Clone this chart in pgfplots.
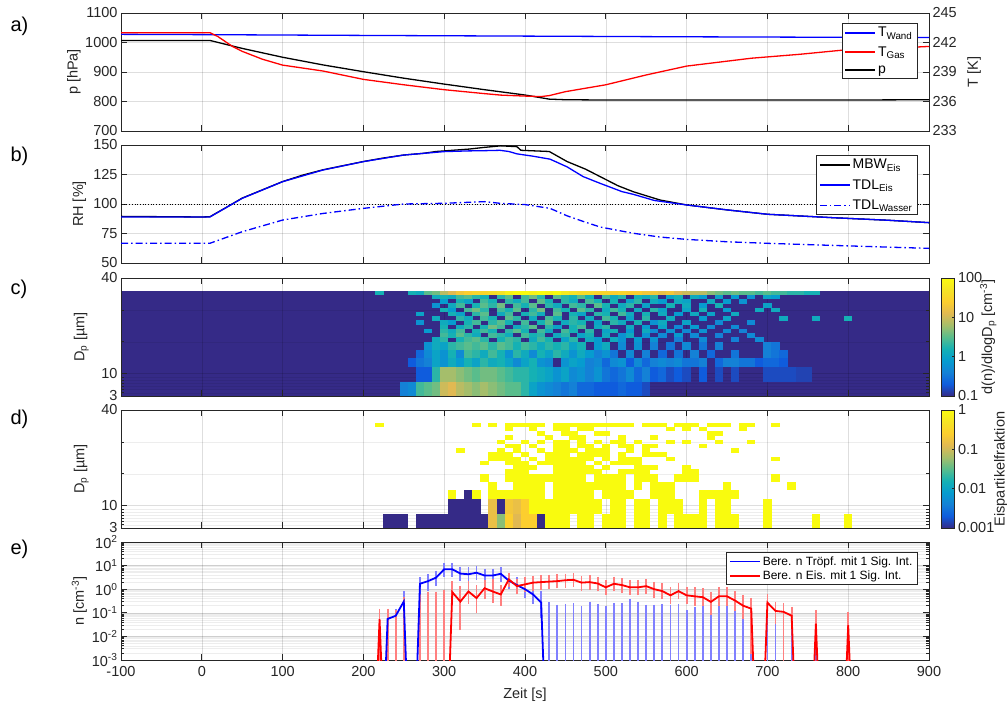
\documentclass[border=0pt]{standalone}
\usepackage{fontspec}
\setmainfont{Liberation Sans}
\usepackage{pgfplots}
\usepackage{pgfplotstable}
\pgfplotsset{compat=1.18}

\definecolor{axgray}{RGB}{38,38,38}
\definecolor{pbase}{RGB}{53,42,135}
\definecolor{lblue}{RGB}{128,128,255}
\definecolor{lred}{RGB}{255,128,128}

% calculated droplet number: time, value, lower and upper 1-sigma bound (zero -> 1e-10)
\pgfplotstableread{
t n lo hi
220 1e-10 1e-10 1e-10
230 0.055 0.035 0.1
240 0.075 0.05 0.1
250 0.3 0.021 0.55
260 1e-10 1e-10 1e-10
270 1.7 0.85 2.2
280 2.2 1.3 2.9
290 3.1 2.0 4.1
300 7.0 5.0 8.8
310 7.0 5.0 8.8
320 4.6 3.3 6.1
330 4.3 3.0 5.8
340 5.0 3.6 6.6
350 3.8 2.6 5.1
360 3.8 2.6 5.1
370 4.5 3.1 5.8
380 2.3 1.5 3.2
390 1.5 0.95 2.2
400 1.0 0.62 1.5
410 0.6 0.35 0.95
420 0.27 0.09 0.55
430 1e-10 1e-10 0.19
440 1e-10 1e-10 0.15
450 1e-10 1e-10 0.16
460 1e-10 1e-10 0.17
470 1e-10 1e-10 0.13
480 1e-10 1e-10 0.2
490 1e-10 1e-10 0.16
500 1e-10 1e-10 0.13
510 1e-10 1e-10 0.18
520 1e-10 1e-10 0.17
530 1e-10 1e-10 0.26
540 1e-10 1e-10 0.2
550 1e-10 1e-10 0.15
560 1e-10 1e-10 0.15
570 1e-10 1e-10 0.16
580 1e-10 1e-10 0.15
590 1e-10 1e-10 0.16
600 1e-10 1e-10 0.09
610 1e-10 1e-10 0.12
620 1e-10 1e-10 0.13
630 1e-10 1e-10 0.14
640 1e-10 1e-10 0.14
650 1e-10 1e-10 0.14
660 1e-10 1e-10 0.15
670 1e-10 1e-10 0.066
680 1e-10 1e-10 0.12
690 1e-10 1e-10 1e-10
700 1e-10 1e-10 0.13
710 1e-10 1e-10 0.05
720 1e-10 1e-10 0.09
730 1e-10 1e-10 0.066
760 1e-10 1e-10 0.033
800 1e-10 1e-10 0.033
}\dropN

% calculated ice number
\pgfplotstableread{
t n lo hi
210 1e-10 1e-10 1e-10
220 0.054 1e-6 0.1
230 1e-10 1e-10 0.1
240 1e-10 1e-10 0.09
250 1e-10 1e-10 0.33
260 1e-10 1e-10 1e-10
270 1e-10 1e-10 0.43
280 1e-10 1e-10 0.54
290 1e-10 1e-10 0.54
300 1e-10 1e-10 0.6
310 0.75 0.3 1.5
320 0.3 0.027 0.9
330 0.8 0.35 1.5
340 0.42 0.14 1.0
350 1.1 0.55 1.7
360 0.8 0.4 1.8
370 0.6 0.3 1.0
380 2.6 1.8 3.3
390 1.35 0.9 1.9
400 1.6 1.1 2.2
410 1.9 1.3 2.5
420 2.0 1.4 2.6
430 2.1 1.5 2.8
440 2.2 1.6 2.9
450 2.4 1.7 3.1
460 2.5 1.8 3.2
470 1.9 1.3 2.5
480 2.0 1.4 2.6
490 1.75 1.2 2.3
500 1.2 0.8 1.7
510 1.7 1.2 2.3
520 1.5 1.0 2.0
530 1.2 0.8 1.7
540 1.2 0.8 1.7
550 1.35 0.9 1.8
560 1.0 0.65 1.4
570 0.83 0.55 1.2
580 0.55 0.34 0.85
590 0.83 0.55 1.2
600 0.55 0.35 0.85
610 0.5 0.3 0.8
620 0.46 0.28 0.75
630 0.29 0.12 0.5
640 0.5 0.3 0.8
650 0.5 0.3 0.8
660 0.33 0.17 0.55
670 0.2 0.08 0.38
680 0.15 0.0027 0.3
690 1e-10 1e-10 1e-10
700 0.27 0.13 0.42
710 0.12 0.05 0.2
720 0.11 1e-6 0.18
730 0.075 0.04 0.12
740 1e-10 1e-10 1e-10
750 1e-10 1e-10 1e-10
760 0.035 0.005 0.09
770 1e-10 1e-10 1e-10
790 1e-10 1e-10 1e-10
800 0.03 1e-6 0.07
810 1e-10 1e-10 1e-10
}\iceN

% one heatmap cell: 10 s wide, half height = mark size
\pgfdeclareplotmark{hcell}{%
  \pgfpathrectangle{\pgfqpoint{-4.2pt}{-\pgfplotmarksize}}%
                   {\pgfqpoint{8.4pt}{2\pgfplotmarksize}}%
  \pgfusepathqfill}

\newcommand\fs{\fontsize{14.5}{17}\selectfont}

\pgfplotsset{
  parula/.style={colormap={parula}{rgb255=(53,42,135) rgb255=(15,92,221)
     rgb255=(20,129,214) rgb255=(6,156,207) rgb255=(21,177,180) rgb255=(89,189,140)
     rgb255=(165,190,107) rgb255=(225,185,82) rgb255=(252,206,46) rgb255=(245,227,37)
     rgb255=(249,251,14)}},
  panel/.style={
    scale only axis, width=808pt, height=118pt, anchor=south west,
    xmin=-100, xmax=900, xtick={-100,0,...,900},
    tick align=inside, xtick pos=both, xticklabel pos=left,
    major tick length=6pt, minor tick length=3pt,
    axis line style={axgray, line width=0.7pt},
    every tick/.style={axgray, line width=0.7pt},
    tick label style={font=\fs, text=axgray},
    label style={font=\fs, text=axgray},
    xmajorgrids, ymajorgrids,
    grid style={black, opacity=0.13, line width=0.6pt},
    minor grid style={black, opacity=0.07, line width=0.5pt},
    /pgf/number format/1000 sep={},
    /pgf/number format/assume math mode=true,
    legend cell align=left,
    legend image code/.code={\draw[##1] (0pt,0pt) -- (30pt,0pt);},
    legend style={draw=axgray, line width=0.6pt, fill=white,
      at={(0.986,0.915)}, anchor=north east, inner xsep=3pt, inner ysep=2pt,
      font=\fontsize{14}{16}\selectfont},
  },
  ylab/.style={ylabel style={at={(axis description cs:#1,0.5)}, anchor=base}},
  hc/.style={scatter, only marks, mark=hcell, point meta=explicit,
    scatter/use mapped color={draw=none, fill=mapped color}},
  cbar/.style n args={4}{colorbar, colorbar style={
    scale only axis, width=13pt, height=118pt,
    at={(parent axis.north east)}, anchor=north west, xshift=4pt,
    ytick={#1}, yticklabels={#2}, ytick pos=right, yticklabel pos=right,
    major tick length=3pt, tick align=inside,
    axis line style={axgray, line width=0.6pt},
    every tick/.style={axgray, line width=0.6pt},
    tick label style={font=\fs, text=axgray},
    ylabel={#3},
    ylabel style={at={(axis description cs:#4,0.5)}, anchor=base, font=\fs, text=axgray}}},
  % 1-sigma intervals only: the connecting line is invisible
  sigbars/.style={forget plot, color=#1, draw opacity=0, line width=1.8pt,
    error bars/.cd, y dir=both, y explicit,
    error bar style={draw=#1, draw opacity=1, line width=1.8pt},
    error mark options={mark size=4pt, draw=#1, draw opacity=1, line width=1.8pt}},
}

\begin{document}
\begin{tikzpicture}
\useasboundingbox (0pt,0pt) rectangle (1007pt,-706pt);

% ---------------- a) pressure and temperatures
\begin{axis}[panel, at={(121pt,-131pt)}, ymin=700, ymax=1100, ytick={700,800,...,1100},
  ytick pos=left, xticklabels={}, ylabel={p [hPa]}, ylab=-0.0538]
\addplot[black, line width=1.3pt] coordinates {
(-100,1007) (10,1007) (50,980) (100,950) (150,924) (200,901) (250,879) (300,859)
(350,840) (400,822) (430,808) (450,806) (500,805) (600,805) (700,805) (800,805) (900,806)};
\end{axis}
\begin{axis}[panel, at={(121pt,-131pt)}, ymin=233, ymax=245, ytick={233,236,...,245},
  axis y line*=right, axis x line=none, xmajorgrids=false, ymajorgrids=false,
  ytick pos=right, ylabel={T [K]}, ylab=1.0606,
  legend style={row sep=4pt}]
\addplot[blue, line width=1.3pt] coordinates {
(-100,242.83) (0,242.8) (200,242.72) (400,242.65) (600,242.58) (900,242.5)};
\addlegendentry{T\textsubscript{Wand}}
\addplot[red, line width=1.3pt] coordinates {
(-100,243.0) (10,243.0) (20,242.6) (38,241.6) (50,241.1) (75,240.3) (100,239.7)
(150,239.1) (200,238.25) (250,237.7) (300,237.2) (350,236.8) (370,236.65) (400,236.55)
(420,236.5) (430,236.6) (450,237.0) (500,237.7) (550,238.7) (600,239.6) (650,240.1)
(680,240.4) (740,240.8) (790,241.2) (850,241.4) (900,241.6)};
\addlegendentry{T\textsubscript{Gas}}
\addlegendimage{black, line width=1.3pt}
\addlegendentry{p}
\end{axis}

% ---------------- b) relative humidity
\begin{axis}[panel, at={(121pt,-263pt)}, ymin=50, ymax=150, ytick={50,75,...,150},
  ytick pos=both, yticklabel pos=left, xticklabels={}, ylabel={RH [\%]}, ylab=-0.0468,
  legend style={row sep=5pt}]
\addplot[black, dotted, line width=0.7pt, forget plot] coordinates {(-100,100) (900,100)};
\addplot[black, line width=1.3pt] coordinates {
(-100,89.5) (0,89) (10,89.2) (30,97) (50,105) (75,112) (100,119) (125,124.5) (150,129)
(175,132.5) (200,136) (225,139) (250,141.5) (275,143) (290,144.5) (310,145.5) (330,146.5)
(350,148) (370,149.3) (390,148.6) (395,145.5) (430,144.5) (452,136) (475,129.5)
(493,123.2) (515,115.5) (534,110.4) (567,103.4) (600,99.2) (650,95) (700,91.3)
(781,88.4) (850,86.2) (900,84.2)};
\addlegendentry{MBW\textsubscript{Eis}}
\addplot[blue, line width=1.3pt] coordinates {
(-100,89) (10,89) (50,104.8) (100,118.9) (150,128.8) (200,135.9) (250,141.5)
(300,144.4) (330,145) (350,145.2) (369,145.5) (380,144.5) (390,142.5) (410,140.5)
(431,138) (452,131.5) (472,123.2) (493,117.5) (520,110.5) (534,108.2) (560,103)
(600,99.2) (650,95) (700,91.3) (781,88.4) (850,86.2) (900,84.2)};
\addlegendentry{TDL\textsubscript{Eis}}
\addplot[blue, line width=1.3pt, dash pattern=on 7pt off 3pt on 1.5pt off 3pt] coordinates {
(-100,66.7) (10,66.7) (50,76.5) (100,86.4) (150,92) (200,96.3) (250,100) (300,100.6)
(350,102) (369,100.6) (400,99.5) (431,96.3) (452,90) (473,85) (493,80.5) (534,75.2)
(567,72) (600,70) (650,68) (699,66.7) (800,64.5) (900,62.4)};
\addlegendentry{TDL\textsubscript{Wasser}}
\end{axis}

% ---------------- c) size distribution, log10 of d(n)/dlogDp
\begin{axis}[panel, at={(121pt,-396pt)}, ymin=3, ymax=40, ytick={3,10,40},
  minor ytick={4,5,6,7,8,9,20,30}, ytick pos=both, yticklabel pos=left, yminorgrids,
  xticklabels={}, ylabel={D\textsubscript{p} [µm]}, ylab=-0.0452, axis on top,
  parula, point meta min=-1, point meta max=2,
  cbar={-1,0,1,2}{0.1,1,10,100}{d(n)/dlogD\textsubscript{p} [cm\textsuperscript{-3}]}{3.9}]
\addplot[draw=none, fill=pbase] coordinates {(-100,3) (900,3) (900,36) (-100,36)};
\addplot[hc, mark size=2.2pt] table[y expr=35.33, meta index=1, row sep=\\] {
220 0.2\\260 0.2\\270 0.1\\280 0.5\\290 0.6\\300 0.9\\310 1.1\\320 1.3\\330 1.4\\340 1.5\\
350 1.5\\360 1.6\\370 1.7\\380 1.9\\390 2.0\\400 2.0\\410 1.9\\420 2.0\\430 1.9\\440 2.0\\
450 1.8\\460 1.7\\470 1.6\\480 1.6\\490 1.5\\500 1.5\\510 1.4\\520 1.5\\530 1.4\\540 1.4\\
550 1.3\\560 1.3\\570 1.2\\580 1.3\\590 1.1\\600 1.0\\610 0.9\\620 0.9\\630 0.7\\640 0.6\\
650 0.5\\660 0.6\\670 0.5\\680 0.5\\690 0.4\\700 0.5\\710 0.4\\720 0.4\\730 0.3\\740 0.3\\
750 0.2\\760 0.2\\};
\addplot[hc, mark size=2.2pt] table[y expr=34.0, meta index=1, row sep=\\] {
290 0.1\\300 0.2\\310 0.1\\320 0.4\\330 0.5\\340 0.3\\350 0.2\\370 0.3\\380 0.5\\400 0.4\\
410 0.6\\420 0.3\\440 0.5\\450 0.3\\460 0.2\\470 0.5\\480 0.2\\500 0.4\\510 0.1\\520 0.3\\
540 0.2\\550 0.1\\560 0.3\\580 0.0\\590 0.2\\610 0.1\\620 -0.1\\640 0.0\\660 -0.1\\680 -0.2\\
700 0.0\\710 -0.1\\};
\addplot[hc, mark size=2.2pt] table[y expr=32.67, meta index=1, row sep=\\] {
300 -0.1\\320 0.2\\330 0.0\\350 0.4\\360 0.2\\380 0.3\\390 0.1\\400 0.4\\420 0.5\\430 0.2\\
450 0.3\\460 0.1\\480 0.4\\490 0.2\\510 0.2\\530 0.0\\540 0.3\\560 0.1\\570 -0.1\\590 0.1\\
600 0.0\\630 0.1\\650 -0.1\\670 -0.2\\};
\addplot[hc, mark size=2.2pt] table[y expr=31.33, meta index=1, row sep=\\] {
290 -0.2\\310 0.1\\320 0.4\\340 0.2\\350 0.5\\360 0.3\\370 0.6\\390 0.4\\400 0.2\\410 0.5\\
430 0.3\\440 0.1\\460 0.4\\470 0.3\\490 0.5\\500 0.2\\520 0.1\\530 0.3\\550 0.0\\580 0.2\\
600 0.1\\620 -0.1\\640 0.2\\700 0.0\\};
\addplot[hc, mark size=2.2pt] table[y expr=30.0, meta index=1, row sep=\\] {
300 0.2\\310 -0.1\\330 0.4\\340 0.6\\350 0.3\\370 0.4\\380 0.2\\390 0.5\\410 0.3\\420 0.6\\
440 0.4\\450 0.2\\470 0.5\\480 0.3\\500 0.1\\510 0.4\\520 0.2\\540 0.1\\560 0.3\\570 0.0\\
600 0.0\\620 0.2\\650 -0.1\\690 0.1\\710 0.1\\};
\addplot[hc, mark size=2.2pt] table[y expr=28.67, meta index=1, row sep=\\] {
270 0.0\\310 0.2\\320 0.0\\340 0.3\\350 0.5\\370 0.1\\380 0.4\\400 0.2\\410 0.4\\420 0.1\\
440 0.5\\460 0.2\\470 0.0\\490 0.3\\500 0.2\\520 0.4\\530 0.1\\550 0.2\\570 0.1\\590 -0.1\\
610 0.1\\630 0.0\\660 0.1\\};
\addplot[hc, mark size=2.2pt] table[y expr=27.33, meta index=1, row sep=\\] {
290 0.1\\320 0.3\\330 0.1\\350 0.4\\360 0.2\\380 0.5\\390 0.3\\410 0.1\\430 0.4\\440 0.2\\
460 0.3\\480 0.1\\500 0.4\\510 0.2\\530 0.0\\550 0.3\\580 0.1\\620 -0.1\\650 0.0\\720 0.1\\
760 0.1\\800 0.2\\};
\addplot[hc, mark size=2.2pt] table[y expr=26.0, meta index=1, row sep=\\] {
270 -0.2\\300 0.1\\310 -0.1\\330 0.2\\340 0.4\\360 0.3\\370 0.5\\380 0.2\\400 0.4\\420 0.2\\
430 0.5\\450 0.1\\460 0.3\\470 0.2\\490 0.0\\510 0.3\\520 0.1\\540 0.2\\560 -0.2\\570 0.1\\
600 0.0\\640 -0.3\\680 -0.3\\};
\addplot[hc, mark size=2.2pt] table[y expr=24.67, meta index=1, row sep=\\] {
300 0.2\\320 0.1\\330 0.3\\350 0.2\\360 0.6\\370 0.4\\390 0.1\\400 0.3\\410 0.5\\430 0.3\\
440 0.0\\460 0.2\\470 0.4\\490 0.1\\500 0.3\\530 0.1\\550 -0.1\\570 0.0\\590 -0.3\\610 -0.1\\
630 -0.3\\660 -0.3\\};
\addplot[hc, mark size=2.2pt] table[y expr=23.33, meta index=1, row sep=\\] {
280 -0.1\\300 0.3\\310 0.1\\320 0.4\\340 0.2\\350 0.4\\360 0.2\\380 0.3\\390 0.5\\400 0.2\\
420 0.4\\430 0.1\\450 0.4\\460 0.2\\480 0.3\\500 0.0\\510 0.2\\530 -0.1\\550 0.1\\560 -0.3\\
580 -0.2\\600 -0.3\\620 -0.2\\650 -0.3\\670 -0.4\\};
\addplot[hc, mark size=2.2pt] table[y expr=22.0, meta index=1, row sep=\\] {
300 0.4\\310 0.2\\320 0.5\\330 0.3\\340 0.1\\360 0.4\\370 0.3\\380 0.1\\400 0.4\\410 0.2\\
420 0.3\\440 0.1\\450 0.3\\470 0.0\\480 0.2\\500 0.1\\520 -0.2\\530 0.1\\550 -0.2\\570 -0.3\\
590 -0.1\\610 -0.3\\640 -0.4\\680 -0.3\\};
\addplot[hc, mark size=2.2pt] table[y expr=20.67, meta index=1, row sep=\\] {
290 0.1\\300 0.3\\320 0.2\\330 0.4\\340 0.5\\350 0.3\\370 0.2\\380 0.4\\390 0.3\\410 0.1\\
420 0.4\\430 0.2\\450 0.0\\460 0.3\\480 0.1\\490 -0.1\\510 0.1\\520 -0.2\\540 -0.1\\560 -0.2\\
590 -0.4\\620 -0.3\\660 -0.4\\690 -0.3\\};
\addplot[hc, mark size=4.1pt] table[y expr=18.75, meta index=1, row sep=\\] {
280 -0.2\\290 0.1\\300 0.0\\310 0.3\\320 0.4\\330 0.5\\340 0.4\\350 0.5\\360 0.3\\370 0.5\\
380 0.4\\390 0.2\\400 0.4\\410 0.3\\420 0.1\\430 0.3\\440 0.2\\450 0.3\\460 0.0\\470 0.2\\
490 -0.1\\500 0.1\\520 -0.3\\540 -0.2\\560 -0.4\\580 -0.5\\600 -0.3\\620 -0.5\\640 -0.4\\
700 -0.4\\710 -0.5\\};
\addplot[hc, mark size=4.1pt] table[y expr=16.25, meta index=1, row sep=\\] {
270 -0.6\\280 -0.3\\290 0.0\\300 -0.2\\310 0.2\\320 -0.3\\330 0.4\\340 0.3\\350 0.1\\360 0.4\\
370 0.2\\380 -0.2\\390 0.3\\400 0.1\\410 -0.3\\420 0.2\\430 0.0\\440 0.3\\450 0.1\\460 -0.2\\
470 0.1\\480 -0.1\\490 -0.4\\500 -0.2\\510 -0.5\\530 -0.3\\550 -0.4\\570 -0.6\\590 -0.5\\
610 -0.4\\630 -0.6\\660 -0.5\\700 -0.4\\710 -0.5\\720 -0.6\\};
\addplot[hc, mark size=4.9pt] table[y expr=13.5, meta index=1, row sep=\\] {
260 -0.7\\270 -0.5\\280 -0.4\\290 0.0\\300 -0.2\\310 0.1\\320 -0.1\\330 0.2\\340 0.0\\350 0.3\\
360 0.1\\370 0.2\\380 0.0\\390 -0.3\\400 0.0\\410 0.2\\420 -0.2\\430 -0.3\\450 -0.2\\460 0.0\\
470 -0.1\\480 -0.4\\490 -0.3\\500 -0.6\\510 -0.3\\520 -0.2\\530 -0.7\\540 -0.3\\550 -0.6\\
560 -0.4\\570 -0.3\\580 -0.4\\590 -0.3\\600 -0.5\\610 -0.5\\620 -0.4\\640 -0.6\\650 -0.4\\
660 -0.4\\670 -0.5\\680 -0.5\\690 -0.7\\700 -0.6\\710 -0.6\\720 -0.7\\};
\addplot[hc, mark size=7.3pt] table[y expr=9.75, meta index=1, row sep=\\] {
270 -0.7\\280 -0.7\\290 0.3\\300 0.8\\310 0.8\\320 0.7\\330 0.6\\340 0.5\\350 0.6\\360 0.6\\
370 0.5\\380 0.4\\390 0.3\\400 0.3\\410 0.2\\420 0.1\\430 0.0\\440 -0.2\\450 0.0\\460 -0.3\\
470 -0.2\\480 -0.4\\490 -0.2\\500 -0.5\\510 -0.6\\520 -0.5\\530 -0.3\\540 -0.6\\550 -0.4\\
560 -0.7\\570 -0.6\\580 -0.8\\590 -0.7\\600 -0.8\\620 -0.7\\640 -0.8\\660 -0.8\\700 -0.8\\
710 -0.8\\720 -0.8\\730 -0.8\\740 -0.85\\750 -0.85\\};
\addplot[hc, mark size=7.3pt] table[y expr=5.25, meta index=1, row sep=\\] {
250 -0.4\\260 -0.3\\270 0.4\\280 0.5\\290 0.6\\300 1.0\\310 1.1\\320 0.9\\330 0.8\\340 0.7\\
350 0.8\\360 0.7\\370 0.6\\380 0.5\\390 0.5\\400 0.3\\410 0.0\\420 -0.2\\430 -0.3\\440 -0.4\\
450 -0.5\\460 -0.4\\470 -0.6\\480 -0.6\\490 -0.7\\500 -0.7\\510 -0.7\\520 -0.6\\530 -0.7\\
540 -0.7\\550 -0.8\\};
\end{axis}

% ---------------- d) ice fraction, log10
\begin{axis}[panel, at={(121pt,-528pt)}, ymin=3, ymax=40, ytick={3,10,40},
  minor ytick={4,5,6,7,8,9,20,30}, ytick pos=both, yticklabel pos=left, yminorgrids,
  xticklabels={}, ylabel={D\textsubscript{p} [µm]}, ylab=-0.0452, axis on top,
  parula, point meta min=-3, point meta max=0,
  cbar={-3,-2,-1,0}{0.001,0.01,0.1,1}{Eispartikelfraktion}{4.85}]
\addplot[hc, mark size=2.2pt] table[y expr=35.33, meta index=1, row sep=\\] {
220 0\\340 0\\360 0\\380 0\\390 0\\400 0\\410 0\\420 0\\440 0\\450 0\\460 0\\470 0\\480 0\\
490 0\\500 0\\510 0\\520 0\\530 0\\550 0\\560 0\\570 0\\590 0\\600 0\\610 0\\630 0\\640 0\\
650 0\\670 0\\680 0\\710 0\\};
\addplot[hc, mark size=2.2pt] table[y expr=34.0, meta index=1, row sep=\\] {
380 0\\410 0\\440 0\\450 0\\470 0\\480 0\\580 0\\600 0\\620 0\\670 0\\};
\addplot[hc, mark size=2.2pt] table[y expr=32.67, meta index=1, row sep=\\] {
420 0\\450 0\\460 0\\490 0\\500 0\\630 0\\640 0\\};
\addplot[hc, mark size=2.2pt] table[y expr=31.33, meta index=1, row sep=\\] {
380 0\\430 0\\460 0\\470 0\\520 0\\560 0\\630 0\\};
\addplot[hc, mark size=2.2pt] table[y expr=30.0, meta index=1, row sep=\\] {
370 0\\400 0\\420 0\\440 0\\450 0\\470 0\\490 0\\510 0\\520 0\\540 0\\580 0\\600 0\\640 0\\680 0\\};
\addplot[hc, mark size=2.2pt] table[y expr=28.67, meta index=1, row sep=\\] {
380 0\\390 0\\410 0\\440 0\\450 0\\470 0\\480 0\\500 0\\520 0\\530 0\\550 0\\560 0\\620 0\\};
\addplot[hc, mark size=2.2pt] table[y expr=27.33, meta index=1, row sep=\\] {
320 0\\370 0\\390 0\\420 0\\440 0\\450 0\\460 0\\480 0\\490 0\\500 0\\530 0\\550 0\\660 0\\};
\addplot[hc, mark size=2.2pt] table[y expr=26.0, meta index=1, row sep=\\] {
360 0\\370 0\\380 0\\400 0\\430 0\\440 0\\450 0\\470 0\\480 0\\490 0\\500 0\\520 0\\550 0\\
560 0\\570 0\\};
\addplot[hc, mark size=2.2pt] table[y expr=24.67, meta index=1, row sep=\\] {
360 0\\370 0\\380 0\\390 0\\410 0\\430 0\\440 0\\450 0\\460 0\\470 0\\480 0\\500 0\\520 0\\
530 0\\540 0\\580 0\\710 0\\};
\addplot[hc, mark size=2.2pt] table[y expr=23.33, meta index=1, row sep=\\] {
350 0\\380 0\\390 0\\400 0\\420 0\\430 0\\440 0\\450 0\\460 0\\470 0\\490 0\\510 0\\520 0\\
530 0\\540 0\\};
\addplot[hc, mark size=2.2pt] table[y expr=22.0, meta index=1, row sep=\\] {
390 0\\400 0\\410 0\\440 0\\450 0\\460 0\\470 0\\480 0\\500 0\\540 0\\550 0\\560 0\\600 0\\};
\addplot[hc, mark size=2.2pt] table[y expr=20.67, meta index=1, row sep=\\] {
380 0\\390 0\\400 0\\440 0\\450 0\\460 0\\470 0\\480 0\\490 0\\520 0\\530 0\\540 0\\550 0\\
600 0\\610 0\\};
\addplot[hc, mark size=4.1pt] table[y expr=18.75, meta index=1, row sep=\\] {
350 0\\380 0\\390 0\\400 0\\410 0\\420 0\\430 0\\440 0\\450 0\\460 0\\470 0\\490 0\\500 0\\
510 0\\520 0\\540 0\\550 0\\560 0\\590 0\\600 0\\610 0\\710 0\\};
\addplot[hc, mark size=4.1pt] table[y expr=16.25, meta index=1, row sep=\\] {
360 0\\390 0\\400 0\\410 0\\420 0\\440 0\\450 0\\460 0\\470 0\\480 0\\490 0\\500 0\\510 0\\
520 0\\540 0\\560 0\\570 0\\580 0\\650 0\\730 0\\};
\addplot[hc, mark size=4.9pt] table[y expr=13.5, meta index=1, row sep=\\] {
310 0\\330 -3\\340 0\\360 0\\370 0\\380 0\\390 0\\400 0\\410 0\\420 0\\440 0\\450 0\\460 0\\
470 0\\480 0\\500 0\\510 0\\520 0\\530 0\\560 0\\570 0\\580 0\\620 0\\630 0\\640 0\\650 0\\660 0\\};
\addplot[hc, mark size=7.3pt] table[y expr=9.75, meta index=1, row sep=\\] {
310 -3\\320 -3\\330 -3\\340 -3\\360 -0.8\\370 -3\\380 -0.7\\390 -0.8\\400 -0.6\\410 0\\
420 0\\430 0\\440 0\\450 0\\460 0\\470 0\\480 0\\490 0\\510 0\\520 0\\540 0\\550 0\\570 0\\
580 0\\590 0\\620 0\\640 0\\650 0\\700 0\\};
\addplot[hc, mark size=7.3pt] table[y expr=5.25, meta index=1, row sep=\\] {
230 -3\\240 -3\\250 -3\\270 -3\\280 -3\\290 -3\\300 -3\\310 -3\\320 -3\\330 -3\\340 -3\\
350 -3\\360 -0.8\\370 -1.3\\380 -0.6\\390 -0.9\\400 -0.6\\410 -0.6\\420 -3\\430 0\\440 0\\
450 0\\470 0\\480 0\\500 0\\510 0\\520 0\\540 0\\550 0\\570 0\\590 0\\600 0\\610 0\\620 0\\
640 0\\650 0\\660 0\\700 0\\760 0\\800 0\\};
\end{axis}

% ---------------- e) droplet and ice number concentrations
\begin{axis}[panel, at={(121pt,-660pt)}, ymode=log, ymin=1e-3, ymax=1e2,
  ytick={1e-3,1e-2,1e-1,1,10,100},
  yticklabels={10\textsuperscript{-3},10\textsuperscript{-2},10\textsuperscript{-1},
    10\textsuperscript{0},10\textsuperscript{1},10\textsuperscript{2}},
  ytick pos=both, yticklabel pos=left, yminorgrids,
  xticklabel style={yshift=-3pt},
  xlabel={Zeit [s]}, xlabel style={at={(axis description cs:0.5,-0.329)}, anchor=base},
  ylabel={n [cm\textsuperscript{-3}]}, ylab=-0.0458,
  legend style={font=\fontsize{12}{14}\selectfont}]
\addplot[sigbars=lblue] table[x=t, y=n, y error plus expr=\thisrow{hi}-\thisrow{n},
        y error minus expr=\thisrow{n}-\thisrow{lo}] {\dropN};
\addplot[sigbars=lred] table[x=t, y=n, y error plus expr=\thisrow{hi}-\thisrow{n},
        y error minus expr=\thisrow{n}-\thisrow{lo}] {\iceN};
\addplot[blue, line width=1.8pt, forget plot] table[x=t, y=n] {\dropN};
\addplot[red, line width=1.8pt, forget plot] table[x=t, y=n] {\iceN};
\addlegendimage{legend image code/.code={\draw[draw=blue, line width=1.8pt] (0pt,0pt) -- (30pt,0pt);}}
\addlegendentry{Bere. n Tröpf. mit 1 Sig. Int.}
\addlegendimage{legend image code/.code={\draw[draw=red, line width=1.8pt] (0pt,0pt) -- (30pt,0pt);}}
\addlegendentry{Bere. n Eis. mit 1 Sig. Int.}
\end{axis}

% panel letters
\begin{scope}[every node/.style={anchor=west, font=\fontsize{20}{24}\selectfont}]
\node at (7pt,-26pt) {a)};
\node at (7pt,-156pt) {b)};
\node at (7pt,-289pt) {c)};
\node at (7pt,-419pt) {d)};
\node at (7pt,-549pt) {e)};
\end{scope}
\end{tikzpicture}
\end{document}
